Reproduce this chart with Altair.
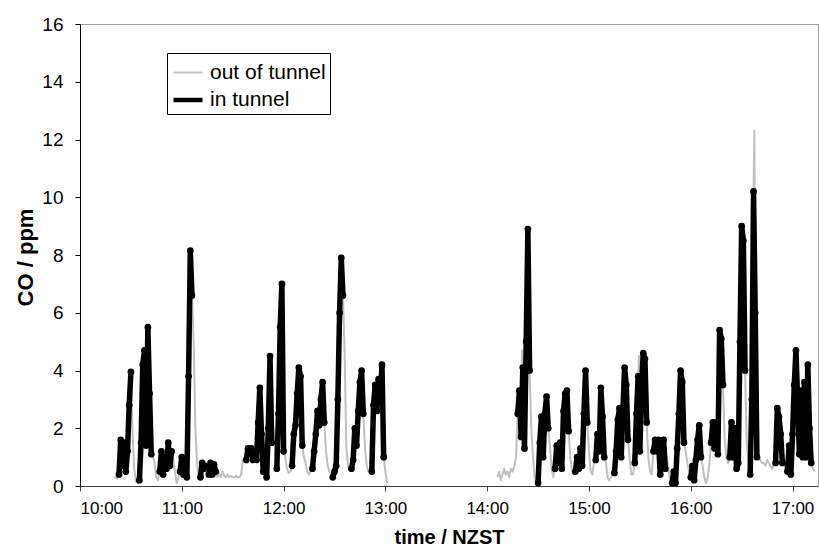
import altair as alt
import pandas as pd

# ---------------- data ----------------
# time axis: minutes after 10:00, one reading per minute
MORNING_START = 20
AFTERNOON_START = 246
STEP = 1

# morning session 10:20 - 13:01
morning_co = [
    0.3, 0.3, 0.25,
    0.4, 1.6, 0.7, 1.5, 0.5, 1.2, 2.8, 3.95,
    1.8, 0.6, 0.15, 0.1,
    0.2, 1.5, 4.2, 4.7, 1.4, 5.5, 3.2, 1.1,
    1.0, 0.8, 0.3, 0.2,
    0.5, 1.2, 0.4, 1.0, 0.6, 1.5, 0.7, 1.2,
    0.9, 0.5, 0.1, 0.3,
    0.5, 1.0, 0.4, 0.9, 0.3, 3.8, 8.15, 6.6,
    5.0, 2.0, 0.8, 0.3,
    0.3, 0.8, 0.6, 0.7,
    0.3,
    0.4, 0.8, 0.4, 0.75, 0.5,
    0.3, 0.45, 0.3, 0.5, 0.35, 0.3, 0.4, 0.3, 0.35, 0.3, 0.3, 0.35, 0.3, 0.3, 0.4, 0.9, 1.0,
    0.9, 1.3, 1.1, 1.3, 0.9,
    1.0,
    0.9, 2.2, 3.4, 1.8, 0.5,
    0.2,
    0.3, 2.0, 4.5, 1.5,
    2.0, 1.2,
    0.6, 2.5, 5.5, 7.0, 1.2,
    1.0, 0.6, 0.45, 0.5,
    0.7, 1.8, 2.1, 3.2, 4.1, 3.8, 1.4,
    1.0, 0.8, 0.5, 0.4, 0.5,
    0.6, 1.2, 1.8, 2.6, 2.1, 3.0, 3.6, 2.2,
    1.2, 0.7, 0.5, 0.4,
    0.3, 0.5, 0.7, 3.0, 6.0, 7.9, 6.6,
    4.5, 1.3, 0.7, 0.6,
    0.6, 0.9, 2.0, 1.4, 2.6, 3.6, 4.0, 2.5,
    1.3, 0.7, 0.5, 0.5,
    0.5, 2.8, 3.5, 2.6, 3.7, 3.0, 4.2, 1.0,
    0.5, 0.1,
]
# g = out of tunnel, b = in tunnel
morning_flags = (
    "ggg bbbbbbbb gggg bbbbbbbb gggg bbbbbbbb gggg bbbbbbbb gggg bbbb g bbbbb "
    "ggggggggggggggggg bbbbb g bbbbb g bbbb gg bbbbb gggg bbbbbbb ggggg "
    "bbbbbbbb gggg bbbbbbb gggg bbbbbbbb gggg bbbbbbbb gg"
)

# afternoon session 14:06 - 17:13
afternoon_co = [
    0.3, 0.5, 0.2, 0.4, 0.6, 0.4, 0.5, 0.3, 0.6, 0.5, 0.7, 1.0,
    2.5, 3.3, 1.7, 4.1, 1.3, 5.0, 8.9, 4.0,
    2.0, 1.0, 0.3, 0.1,
    0.1, 1.5, 2.4, 1.0, 2.5, 3.1, 2.0,
    1.4, 0.6, 0.3,
    0.6, 1.4, 0.8, 1.5, 0.6, 2.6, 3.2, 3.3, 1.9,
    1.0, 0.5, 0.4,
    0.5, 1.0, 0.6, 1.3, 0.7, 2.5, 4.0, 2.2,
    1.2, 0.5, 0.4, 0.8,
    0.9, 1.8, 1.2, 3.4, 2.4, 1.0,
    0.8, 0.3, 0.2, 0.3, 0.4,
    0.45, 1.2, 2.3, 2.7, 1.0, 2.6, 4.1, 3.5, 1.6,
    0.9, 0.4, 0.4,
    0.8, 2.5, 3.8, 1.2, 3.5, 4.6, 4.4, 2.2,
    1.0, 0.5, 0.4,
    1.2, 1.6, 1.2, 1.6, 0.4, 1.5, 1.6, 0.6,
    1.0, 0.5, 0.2,
    0.1, 0.5, 0.1, 1.3, 2.5, 4.0, 3.6, 1.5,
    1.2, 0.8, 0.5,
    0.3, 0.7, 0.2, 0.9, 1.6, 2.1, 1.0,
    0.7, 0.3, 0.1, 0.3, 0.8,
    1.5, 2.2, 1.3, 2.2, 1.1, 5.4, 5.1, 3.5,
    1.6, 1.0, 0.8,
    1.0, 2.2, 1.0, 2.0, 0.6, 0.8, 5.0, 9.0, 8.5, 4.0,
    1.5, 0.8,
    0.4, 3.0, 10.2, 6.0, 1.0,
    1.0, 0.9, 0.8, 0.8, 0.7, 0.9, 0.8, 0.7, 0.6, 0.8,
    0.8, 2.7, 2.4, 1.8, 0.8,
    0.8, 0.5,
    0.5, 1.4, 0.4, 1.8, 3.5, 4.7, 3.0, 1.1, 3.3, 1.0, 3.6, 1.0, 4.2, 2.0, 0.8,
    0.6, 0.5,
]
afternoon_flags = (
    "gggggggggggg bbbbbbbb gggg bbbbbbb ggg bbbbbbbbb ggg bbbbbbbb gggg bbbbbb "
    "ggggg bbbbbbbbb ggg bbbbbbbb ggg bbbbbbbb ggg bbbbbbbb ggg bbbbbbb ggggg "
    "bbbbbbbb ggg bbbbbbbbbb gg bbbbb gggggggggg bbbbb gg bbbbbbbbbbbbbbb gg"
)

# short out-of-tunnel excursions that rise above the in-tunnel trace
extra_out_t = [260.5, 329.5, 397.5]
extra_out_v = [4.7, 4.5, 12.3]

SERIES = ["out of tunnel", "in tunnel"]
x_ticks = [0, 60, 120, 180, 240, 300, 360, 420]
y_ticks = [0, 2, 4, 6, 8, 10, 12, 14, 16]

# ---------------- build tables ----------------
rows_out, rows_in = [], []
for sess, (start, vals, flags) in enumerate(
    [(MORNING_START, morning_co, morning_flags),
     (AFTERNOON_START, afternoon_co, afternoon_flags)]):
    flags = flags.replace(" ", "")
    assert len(flags) == len(vals), (sess, len(flags), len(vals))
    seg, prev = 0, "g"
    for i, (v, f) in enumerate(zip(vals, flags)):
        t = start + i * STEP
        rows_out.append({"t": t, "co": v, "grp": f"s{sess}", "series": SERIES[0]})
        if f == "b":
            if prev != "b":
                seg += 1
            rows_in.append({"t": t, "co": v, "grp": f"s{sess}-{seg}", "series": SERIES[1]})
        prev = f
for t, v in zip(extra_out_t, extra_out_v):
    rows_out.append({"t": t, "co": v, "grp": "s1", "series": SERIES[0]})

df_out = pd.DataFrame(rows_out).sort_values("t")
df_in = pd.DataFrame(rows_in)

FONT = "Liberation Sans"

x_enc = alt.X(
    "t:Q",
    scale=alt.Scale(domain=[0, 435], nice=False, zero=False),
    axis=alt.Axis(
        values=x_ticks,
        labelExpr="(10 + datum.value / 60) + ':00'",
        title="time / NZST",
        titleX=369, titleY=51, titleBaseline="middle", titleAlign="center",
        titleFontSize=20, labelFontSize=17, labelPadding=9,
        domainColor="#404040", tickColor="#404040",
    ),
)
y_enc = alt.Y(
    "co:Q",
    scale=alt.Scale(domain=[0, 16], nice=False),
    axis=alt.Axis(
        values=y_ticks,
        title="CO / ppm",
        titleX=-55, titleY=233, titleBaseline="middle", titleAlign="center",
        titleFontSize=22, labelFontSize=19, labelPadding=12,
        domainColor="#000000", tickColor="#000000",
    ),
)

legend_props = dict(
    title=None, orient="none", legendX=87, legendY=29,
)
color_enc = alt.Color(
    "series:N",
    scale=alt.Scale(domain=SERIES, range=["#c0c0c0", "#000000"]),
    legend=alt.Legend(**legend_props),
)
width_enc = alt.StrokeWidth(
    "series:N",
    scale=alt.Scale(domain=SERIES, range=[2, 4.5]),
    legend=alt.Legend(**legend_props),
)

gray = alt.Chart(df_out).mark_line(strokeJoin="round").encode(
    x=x_enc, y=y_enc, color=color_enc, strokeWidth=width_enc, detail="grp:N"
)
black = alt.Chart(df_in).mark_line(
    strokeJoin="round", strokeCap="round", strokeWidth=5.5
).encode(
    x=x_enc, y=y_enc, color=color_enc, detail="grp:N"
)
dots = alt.Chart(df_in).mark_circle(color="#000000", size=45, opacity=1).encode(
    x=x_enc, y=y_enc
)

chart = (
    alt.layer(gray, black, dots)
    .properties(
        width=738, height=462,
        autosize=alt.AutoSizeParams(type="none"),
        padding={"left": 80, "top": 24, "right": 1, "bottom": 64},
        background="white",
    )
    .configure_view(stroke="#a0a0a0", strokeWidth=1)
    .configure_axis(
        grid=False, labelFont=FONT, titleFont=FONT, labelColor="#000000",
        titleColor="#000000", titleFontWeight="bold", tickSize=5,
        domainWidth=1, tickWidth=1,
    )
    .configure_legend(
        labelFont=FONT, labelFontSize=21, labelColor="#000000",
        strokeColor="#000000", fillColor="#ffffff", padding=4,
        symbolType="stroke", symbolSize=841, rowPadding=0, labelOffset=5,
        cornerRadius=0,
    )
)

chart.save("out.html", embed_options={"renderer": "svg", "actions": False})
